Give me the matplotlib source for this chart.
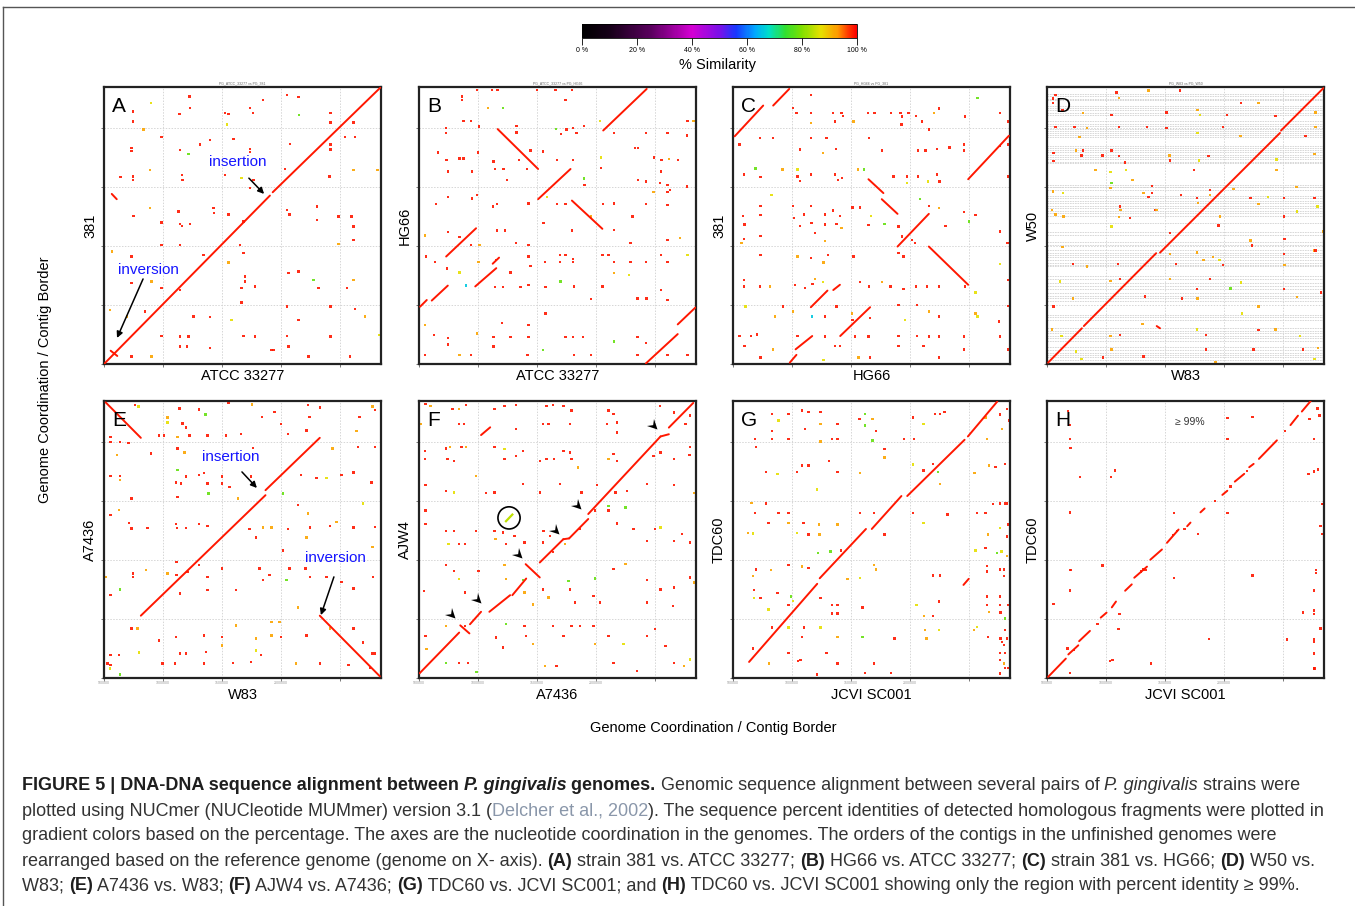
import numpy as np
import matplotlib
matplotlib.use("Agg")
import matplotlib.pyplot as plt
from matplotlib.colors import LinearSegmentedColormap, Normalize
from matplotlib.cm import ScalarMappable
from matplotlib.patches import Circle
from matplotlib.lines import Line2D
from matplotlib.path import Path
from matplotlib.markers import MarkerStyle
from matplotlib.ticker import MultipleLocator
from matplotlib.font_manager import FontProperties

plt.rcParams['font.family'] = ['Liberation Sans', 'DejaVu Sans']

# ---------------- data ----------------
GENOME_MB = 2.35          # genome length shown on every axis (Mb)
SEG_SIM = 98.5            # % similarity of long aligned fragments
LEVEL_SIM = {'r': 98.5, 'o': 92, 'y': 87, 'g': 78, 'c': 66}

CBAR_TICKS = [0, 20, 40, 60, 80, 100]
CBAR_LABELS = ['0 %', '20 %', '40 %', '60 %', '80 %', '100 %']

PANEL_LETTERS = ['A', 'B', 'C', 'D', 'E', 'F', 'G', 'H']
X_NAMES = ['ATCC 33277', 'ATCC 33277', 'HG66', 'W83', 'W83', 'A7436', 'JCVI SC001', 'JCVI SC001']
Y_NAMES = ['381', 'HG66', '381', 'W50', 'A7436', 'AJW4', 'TDC60', 'TDC60']
MINI_TITLES = ['PG_ATCC_33277 vs PG_381', 'PG_ATCC_33277 vs PG_HG66', 'PG_HG66 vs PG_381', 'PG_W83 vs PG_W50',
               '', '', '', '']

# aligned fragments (x0, y0, x1, y1) as fraction of genome length
A_SEGS = [(0.0, 0.0, 0.599, 0.608), (0.609, 0.620, 1.0, 1.0), (0.024, 0.048, 0.048, 0.029),
          (0.028, 0.614, 0.046, 0.595)]
B_SEGS = [(.665, .843, .822, .993), (.284, .848, .430, .704), (.430, .595, .547, .704), (.552, .590, .662, .488),
          (.098, .388, .206, .490), (.203, .280, .279, .346), (.266, .362, .289, .384), (.046, .229, .104, .283),
          (.004, .207, .028, .231), (.934, .143, .998, .204), (.819, .002, .934, .108)]
C_SEGS = [(.006, .822, .109, .933), (.145, .933, .203, .993), (.849, .667, .996, .824), (.489, .667, .543, .617),
          (.537, .595, .594, .542), (.594, .424, .707, .542), (.707, .424, .849, .286), (.281, .205, .341, .265),
          (.362, .267, .386, .286), (.387, .101, .495, .205), (.226, .053, .286, .101), (.205, .005, .229, .033)]
D_SEGS = [(.004, .005, .126, .129), (.133, .137, .394, .400), (.408, .402, .841, .834), (.845, .843, .998, .996),
          (.396, .137, .408, .129)]
E_SEGS = [(.006, .995, .133, .867), (.133, .225, .583, .660), (.583, .678, .779, .867), (.779, .225, .996, .006)]
F_SEGS = [(.002, .017, .145, .164), (.149, .190, .182, .161), (.184, .194, .224, .239), (.254, .239, .329, .299),
          (.337, .299, .387, .359), (.385, .411, .436, .363), (.436, .417, .521, .501), (.521, .501, .542, .504),
          (.542, .504, .611, .574), (.611, .592, .872, .872), (.872, .872, .902, .880), (.902, .904, .990, .993),
          (.224, .877, .257, .905)]
F_CIRCLED_SEG = (.314, .566, .337, .590)
F_CIRCLED_SIM = 84
G_SEGS = [(.058, .058, .304, .340), (.313, .360, .480, .538), (.501, .538, .608, .657), (.629, .657, .836, .860),
          (.848, .872, .954, .998), (.832, .336, .851, .358)]
H_SEGS = [(.004, .004, .068, .070), (.077, .085, .113, .118), (.116, .133, .155, .170), (.194, .218, .215, .236),
          (.234, .255, .249, .276), (.282, .315, .306, .338), (.315, .362, .361, .402), (.373, .427, .415, .464),
          (.433, .488, .475, .536), (.506, .548, .518, .561), (.554, .598, .569, .612), (.633, .661, .651, .676),
          (.678, .709, .712, .737), (.730, .761, .746, .773), (.765, .791, .830, .858), (.879, .913, .906, .947),
          (.920, .962, .952, 1.0)]

# short homologous hits (x, y, similarity level)
A_DOTS = [(.104, .912, 'r'), (.104, .876, 'r'), (.142, .846, 'o'), (.170, .942, 'y'), (.272, .902, 'r'), (.308, .966, 'r'),
          (.311, .924, 'r'), (.437, .906, 'r'), (.449, .902, 'r'), (.443, .864, 'y'), (.528, .924, 'r'), (.537, .906, 'r'),
          (.573, .954, 'r'), (.660, .972, 'r'), (.702, .964, 'r'), (.705, .898, 'g'), (.817, .906, 'r'), (.817, .872, 'r'),
          (.901, .872, 'r'), (.100, .780, 'r'), (.100, .768, 'r'), (.208, .819, 'r'), (.275, .773, 'r'), (.305, .759, 'g'),
          (.347, .792, 'r'), (.383, .808, 'r'), (.467, .813, 'r'), (.528, .777, 'r'), (.528, .765, 'r'), (.672, .795, 'r'),
          (.817, .792, 'r'), (.817, .774, 'r'), (.871, .819, 'r'), (.907, .819, 'r'), (.104, .677, 'r'), (.104, .665, 'r'),
          (.060, .675, 'r'), (.166, .701, 'o'), (.281, .683, 'r'), (.284, .665, 'r'), (.437, .683, 'r'), (.497, .671, 'y'),
          (.540, .665, 'r'), (.528, .635, 'r'), (.654, .704, 'r'), (.814, .677, 'r'), (.901, .701, 'o'), (.988, .701, 'o'),
          (.166, .563, 'o'), (.106, .535, 'r'), (.208, .511, 'r'), (.275, .505, 'r'), (.281, .499, 'r'), (.311, .505, 'r'),
          (.269, .551, 'r'), (.395, .563, 'r'), (.398, .545, 'r'), (.449, .539, 'r'), (.504, .514, 'r'), (.660, .557, 'r'),
          (.670, .539, 'r'), (.768, .569, 'r'), (.768, .520, 'r'), (.847, .533, 'r'), (.894, .533, 'r'), (.900, .496, 'r'),
          (.900, .448, 'r'), (.847, .434, 'o'), (.028, .406, 'o'), (.100, .388, 'r'), (.208, .430, 'r'), (.275, .430, 'r'),
          (.359, .394, 'r'), (.490, .430, 'r'), (.503, .400, 'r'), (.449, .366, 'o'), (.509, .316, 'r'), (.509, .298, 'r'),
          (.546, .280, 'r'), (.497, .274, 'r'), (.666, .328, 'r'), (.702, .334, 'r'), (.774, .274, 'r'), (.877, .274, 'r'),
          (.901, .304, 'o'), (.756, .304, 'g'), (.100, .292, 'r'), (.208, .274, 'r'), (.275, .268, 'r'), (.172, .298, 'o'),
          (.022, .195, 'o'), (.082, .171, 'o'), (.148, .189, 'r'), (.323, .171, 'r'), (.383, .169, 'r'), (.461, .159, 'y'),
          (.497, .222, 'r'), (.660, .207, 'r'), (.702, .159, 'r'), (.817, .207, 'r'), (.907, .198, 'r'), (.943, .171, 'o'),
          (.208, .101, 'r'), (.275, .099, 'r'), (.305, .099, 'r'), (.503, .101, 'r'), (.546, .099, 'r'), (.660, .101, 'r'),
          (.817, .099, 'r'), (.275, .063, 'r'), (.299, .063, 'r'), (.383, .057, 'r'), (.605, .051, 'r'), (.612, .051, 'r'),
          (.666, .063, 'r'), (.738, .027, 'r'), (.888, .027, 'r'), (.100, .027, 'r'), (.172, .027, 'o'), (.992, .105, 'y')]

B_DOTS = [(.155, .966, 'r'), (.155, .954, 'r'), (.209, .990, 'r'), (.263, .990, 'r'), (.284, .990, 'r'), (.426, .990, 'r'),
          (.493, .990, 'r'), (.553, .990, 'r'), (.529, .952, 'r'), (.303, .924, 'g'), (.249, .924, 'o'), (.160, .878, 'r'),
          (.188, .878, 'r'), (.098, .853, 'r'), (.098, .834, 'r'), (.217, .857, 'r'), (.352, .860, 'r'), (.352, .836, 'r'),
          (.495, .848, 'g'), (.513, .831, 'r'), (.532, .846, 'r'), (.556, .852, 'r'), (.569, .834, 'r'), (.595, .860, 'r'),
          (.653, .878, 'y'), (.704, .834, 'r'), (.819, .834, 'r'), (.897, .834, 'r'), (.967, .825, 'r'), (.991, .878, 'o'),
          (.068, .764, 'r'), (.100, .737, 'r'), (.104, .695, 'r'), (.146, .742, 'r'), (.160, .742, 'r'), (.213, .764, 'r'),
          (.191, .695, 'r'), (.269, .731, 'r'), (.275, .704, 'r'), (.305, .704, 'r'), (.317, .665, 'r'), (.360, .736, 'r'),
          (.390, .704, 'r'), (.402, .771, 'r'), (.448, .767, 'r'), (.499, .737, 'r'), (.556, .737, 'r'), (.595, .669, 'g'),
          (.598, .646, 'r'), (.658, .707, 'r'), (.656, .746, 'y'), (.779, .780, 'r'), (.791, .780, 'r'), (.849, .746, 'r'),
          (.876, .737, 'r'), (.903, .740, 'o'), (.934, .737, 'r'), (.873, .695, 'r'), (.871, .653, 'r'), (.897, .646, 'r'),
          (.897, .622, 'r'), (.907, .628, 'r'), (.791, .665, 'r'), (.819, .659, 'r'), (.847, .622, 'o'), (.967, .641, 'r'),
          (.970, .878, 'r'), (.062, .578, 'r'), (.104, .602, 'r'), (.191, .598, 'r'), (.209, .610, 'r'), (.281, .578, 'r'),
          (.267, .569, 'r'), (.396, .580, 'r'), (.462, .602, 'y'), (.499, .578, 'r'), (.529, .578, 'r'), (.620, .533, 'o'),
          (.665, .578, 'r'), (.704, .580, 'r'), (.771, .533, 'r'), (.819, .578, 'r'), (.897, .575, 'r'), (.943, .455, 'o'),
          (.022, .464, 'o'), (.104, .477, 'r'), (.146, .458, 'r'), (.188, .429, 'r'), (.218, .429, 'o'), (.281, .482, 'r'),
          (.311, .482, 'r'), (.351, .437, 'r'), (.396, .429, 'r'), (.450, .508, 'r'), (.553, .482, 'r'), (.704, .484, 'r'),
          (.764, .437, 'r'), (.897, .448, 'r'), (.025, .388, 'r'), (.058, .369, 'r'), (.102, .345, 'r'), (.146, .330, 'y'),
          (.215, .369, 'o'), (.279, .375, 'r'), (.330, .330, 'r'), (.396, .388, 'r'), (.402, .354, 'r'), (.455, .369, 'r'),
          (.508, .394, 'r'), (.508, .369, 'r'), (.529, .394, 'r'), (.557, .369, 'r'), (.557, .380, 'r'), (.662, .394, 'r'),
          (.684, .394, 'r'), (.704, .369, 'r'), (.764, .369, 'r'), (.819, .369, 'r'), (.873, .394, 'r'), (.897, .369, 'r'),
          (.970, .394, 'y'), (.170, .284, 'c'), (.275, .277, 'r'), (.303, .277, 'r'), (.366, .277, 'r'), (.396, .286, 'r'),
          (.456, .277, 'r'), (.511, .298, 'g'), (.559, .280, 'r'), (.620, .234, 'r'), (.662, .280, 'r'), (.704, .328, 'o'),
          (.758, .322, 'y'), (.789, .237, 'r'), (.822, .237, 'r'), (.897, .231, 'r'), (.873, .267, 'r'), (.022, .141, 'o'),
          (.055, .104, 'r'), (.104, .093, 'r'), (.104, .070, 'r'), (.022, .033, 'r'), (.146, .033, 'o'), (.188, .033, 'r'),
          (.209, .110, 'o'), (.269, .098, 'r'), (.269, .063, 'r'), (.300, .147, 'r'), (.330, .098, 'r'), (.396, .141, 'r'),
          (.396, .098, 'r'), (.392, .033, 'r'), (.448, .051, 'g'), (.456, .183, 'r'), (.529, .098, 'r'), (.557, .098, 'r'),
          (.593, .098, 'r'), (.559, .033, 'r'), (.620, .033, 'r'), (.704, .081, 'g'), (.789, .098, 'r'), (.819, .075, 'r'),
          (.789, .033, 'r'), (.970, .033, 'r'), (.897, .033, 'r')]

C_DOTS = [(.281, .972, 'r'), (.217, .924, 'r'), (.229, .906, 'r'), (.281, .906, 'r'), (.281, .870, 'o'), (.362, .906, 'r'),
          (.368, .876, 'r'), (.392, .906, 'r'), (.398, .896, 'r'), (.435, .876, 'o'), (.487, .906, 'r'), (.511, .906, 'r'),
          (.571, .906, 'r'), (.604, .906, 'r'), (.610, .894, 'r'), (.608, .864, 'r'), (.634, .906, 'r'), (.661, .896, 'r'),
          (.683, .876, 'r'), (.707, .846, 'r'), (.725, .906, 'o'), (.743, .922, 'r'), (.837, .894, 'r'), (.882, .961, 'g'),
          (.964, .906, 'r'), (.993, .876, 'r'), (.024, .792, 'r'), (.097, .816, 'r'), (.145, .816, 'r'), (.242, .774, 'r'),
          (.281, .816, 'r'), (.324, .761, 'o'), (.338, .816, 'r'), (.371, .776, 'r'), (.492, .816, 'r'), (.537, .771, 'r'),
          (.668, .771, 'r'), (.695, .771, 'r'), (.737, .776, 'r'), (.781, .781, 'r'), (.834, .792, 'r'), (.834, .771, 'r'),
          (.964, .786, 'r'), (.994, .792, 'r'), (.040, .684, 'r'), (.081, .706, 'g'), (.099, .675, 'r'), (.178, .702, 'o'),
          (.233, .702, 'y'), (.233, .677, 'r'), (.242, .661, 'r'), (.281, .684, 'r'), (.368, .684, 'r'), (.380, .665, 'r'),
          (.393, .671, 'r'), (.451, .702, 'o'), (.473, .702, 'g'), (.580, .677, 'r'), (.628, .677, 'r'), (.628, .653, 'y'),
          (.668, .677, 'r'), (.703, .659, 'y'), (.737, .684, 'r'), (.745, .659, 'r'), (.994, .677, 'r'), (.139, .611, 'y'),
          (.099, .570, 'r'), (.099, .537, 'r'), (.036, .534, 'r'), (.042, .504, 'r'), (.040, .452, 'r'), (.030, .437, 'o'),
          (.099, .463, 'r'), (.217, .570, 'r'), (.220, .528, 'r'), (.242, .498, 'r'), (.257, .539, 'r'), (.281, .570, 'r'),
          (.284, .510, 'r'), (.296, .472, 'r'), (.332, .539, 'r'), (.332, .504, 'r'), (.362, .554, 'r'), (.374, .506, 'r'),
          (.386, .535, 'r'), (.392, .490, 'o'), (.332, .443, 'o'), (.432, .565, 'r'), (.459, .565, 'r'), (.498, .535, 'y'),
          (.489, .502, 'r'), (.547, .506, 'g'), (.598, .496, 'r'), (.610, .460, 'r'), (.646, .448, 'r'), (.658, .436, 'r'),
          (.676, .595, 'g'), (.707, .570, 'r'), (.743, .564, 'o'), (.767, .498, 'r'), (.834, .548, 'r'), (.852, .514, 'g'),
          (.876, .537, 'r'), (.964, .478, 'r'), (.991, .436, 'r'), (.099, .394, 'r'), (.233, .388, 'o'), (.281, .382, 'r'),
          (.326, .366, 'o'), (.344, .394, 'r'), (.435, .388, 'r'), (.598, .400, 'r'), (.616, .388, 'r'), (.964, .361, 'y'),
          (.040, .304, 'r'), (.040, .280, 'r'), (.097, .280, 'r'), (.133, .280, 'o'), (.224, .286, 'r'), (.260, .274, 'r'),
          (.296, .306, 'o'), (.287, .288, 'r'), (.324, .295, 'y'), (.459, .295, 'r'), (.492, .280, 'r'), (.537, .295, 'o'),
          (.568, .280, 'r'), (.616, .270, 'r'), (.661, .280, 'r'), (.700, .280, 'r'), (.743, .280, 'r'), (.837, .280, 'r'),
          (.994, .304, 'r'), (.876, .258, 'y'), (.045, .207, 'y'), (.151, .171, 'o'), (.181, .207, 'r'), (.217, .189, 'o'),
          (.286, .171, 'c'), (.332, .171, 'r'), (.374, .207, 'r'), (.429, .183, 'o'), (.432, .159, 'r'), (.495, .165, 'r'),
          (.598, .213, 'r'), (.622, .159, 'y'), (.664, .213, 'r'), (.707, .189, 'o'), (.743, .171, 'r'), (.876, .183, 'o'),
          (.882, .171, 'y'), (.961, .153, 'r'), (.994, .210, 'r'), (.024, .101, 'r'), (.066, .101, 'r'), (.087, .106, 'r'),
          (.233, .101, 'r'), (.332, .099, 'r'), (.441, .099, 'r'), (.489, .099, 'r'), (.598, .101, 'r'), (.664, .101, 'r'),
          (.707, .099, 'r'), (.743, .099, 'r'), (.834, .099, 'r'), (.964, .099, 'r'), (.042, .065, 'r'), (.099, .024, 'r'),
          (.145, .053, 'o'), (.368, .065, 'r'), (.386, .065, 'r'), (.453, .024, 'o'), (.495, .024, 'r'), (.598, .065, 'r'),
          (.688, .065, 'r'), (.743, .024, 'r'), (.834, .053, 'r'), (.994, .053, 'r'), (.326, .014, 'y')]

D_DOTS = [(.030, .972, 'r'), (.022, .958, 'r'), (.022, .942, 'r'), (.056, .916, 'r'), (.130, .906, 'o'), (.251, .980, 'r'),
          (.261, .960, 'o'), (.366, .988, 'o'), (.481, .988, 'r'), (.233, .899, 'r'), (.432, .908, 'r'), (.543, .916, 'o'),
          (.553, .899, 'y'), (.650, .899, 'r'), (.700, .942, 'r'), (.764, .942, 'o'), (.825, .896, 'r'), (.970, .908, 'o'),
          (.031, .855, 'r'), (.100, .855, 'r'), (.145, .853, 'o'), (.261, .855, 'r'), (.362, .855, 'r'), (.432, .853, 'r'),
          (.543, .835, 'y'), (.635, .855, 'r'), (.698, .824, 'o'), (.933, .823, 'r'), (.970, .855, 'o'), (.118, .819, 'o'),
          (.024, .761, 'r'), (.104, .771, 'o'), (.130, .771, 'r'), (.124, .753, 'r'), (.200, .753, 'r'), (.233, .771, 'r'),
          (.261, .751, 'r'), (.281, .727, 'r'), (.442, .753, 'o'), (.444, .735, 'r'), (.548, .735, 'y'), (.583, .751, 'r'),
          (.829, .738, 'y'), (.966, .759, 'o'), (.024, .733, 'r'), (.175, .700, 'o'), (.229, .694, 'y'), (.285, .700, 'y'),
          (.308, .665, 'o'), (.531, .701, 'r'), (.829, .700, 'o'), (.229, .635, 'o'), (.233, .653, 'g'), (.378, .643, 'r'),
          (.378, .617, 'r'), (.589, .629, 'r'), (.674, .631, 'o'), (.901, .638, 'o'), (.022, .623, 'o'), (.058, .617, 'y'),
          (.263, .569, 'r'), (.266, .557, 'o'), (.348, .617, 'o'), (.366, .602, 'r'), (.390, .557, 'r'), (.483, .611, 'r'),
          (.541, .599, 'r'), (.546, .581, 'o'), (.589, .611, 'o'), (.734, .599, 'r'), (.764, .578, 'o'), (.797, .602, 'y'),
          (.855, .599, 'r'), (.966, .599, 'r'), (.976, .568, 'y'), (.019, .557, 'o'), (.031, .539, 'o'), (.060, .533, 'o'),
          (.261, .531, 'o'), (.300, .528, 'r'), (.396, .557, 'o'), (.625, .533, 'o'), (.855, .533, 'r'), (.903, .551, 'y'),
          (.619, .500, 'r'), (.233, .496, 'y'), (.444, .472, 'r'), (.740, .428, 'r'), (.734, .446, 'o'), (.857, .452, 'r'),
          (.964, .410, 'o'), (.998, .478, 'o'), (.056, .422, 'o'), (.094, .360, 'r'), (.145, .352, 'o'), (.257, .360, 'r'),
          (.444, .398, 'o'), (.466, .361, 'r'), (.541, .402, 'o'), (.565, .376, 'o'), (.599, .386, 'o'), (.623, .376, 'y'),
          (.635, .358, 'r'), (.855, .398, 'r'), (.857, .358, 'o'), (.970, .410, 'r'), (.048, .298, 'y'), (.229, .300, 'o'),
          (.263, .306, 'r'), (.444, .306, 'o'), (.541, .270, 'r'), (.589, .306, 'r'), (.662, .273, 'g'), (.700, .294, 'y'),
          (.855, .270, 'r'), (.990, .258, 'r'), (.024, .207, 'r'), (.094, .237, 'o'), (.354, .243, 'r'), (.487, .237, 'r'),
          (.543, .237, 'o'), (.764, .207, 'o'), (.903, .241, 'o'), (.704, .183, 'y'), (.019, .125, 'o'), (.229, .101, 'o'),
          (.263, .105, 'r'), (.345, .145, 'o'), (.541, .125, 'y'), (.573, .105, 'r'), (.764, .123, 'r'), (.825, .125, 'o'),
          (.913, .101, 'y'), (.052, .101, 'y'), (.104, .045, 'y'), (.124, .017, 'y'), (.203, .024, 'r'), (.233, .053, 'o'),
          (.348, .027, 'r'), (.575, .053, 'r'), (.609, .005, 'o'), (.746, .053, 'r'), (.925, .053, 'r'), (.966, .017, 'y'),
          (.978, .057, 'o')]

# contig borders of the unfinished W50 assembly (fraction of genome)
D_CONTIG_Y = [.975, .966, .958, .952, .933, .924, .916, .906, .900, .876, .867, .858, .848, .840, .834, .825, .819,
              .788, .780, .771, .764, .755, .747, .740, .731, .725, .647, .639, .629, .607, .599, .590, .581, .571,
              .563, .554, .545, .535, .508, .478, .466, .439, .430, .412, .402, .394, .386, .376, .366, .358, .352,
              .316, .306, .294, .280, .270, .255, .246, .237, .229, .177, .169, .159, .129, .120, .111, .101, .093,
              .084, .060, .051, .041, .033, .024, .014]

E_DOTS = [(.112, .986, 'r'), (.124, .980, 'y'), (.229, .940, 'o'), (.272, .973, 'r'), (.344, .970, 'r'), (.366, .951, 'g'),
          (.450, .992, 'r'), (.535, .988, 'o'), (.571, .943, 'r'), (.616, .961, 'r'), (.737, .986, 'r'), (.742, .943, 'r'),
          (.779, .976, 'r'), (.922, .943, 'r'), (.970, .980, 'o'), (.978, .967, 'r'), (.229, .923, 'y'), (.284, .919, 'r'),
          (.296, .905, 'r'), (.199, .875, 'r'), (.217, .875, 'r'), (.266, .869, 'o'), (.308, .875, 'r'), (.374, .875, 'r'),
          (.441, .875, 'r'), (.495, .880, 'r'), (.640, .917, 'r'), (.664, .880, 'r'), (.731, .894, 'r'), (.912, .892, 'o'),
          (.024, .871, 'r'), (.024, .852, 'r'), (.057, .852, 'r'), (.088, .848, 'r'), (.048, .805, 'o'), (.169, .810, 'r'),
          (.266, .829, 'r'), (.290, .814, 'o'), (.537, .831, 'r'), (.825, .829, 'o'), (.918, .835, 'r'), (.978, .835, 'r'),
          (.024, .730, 'r'), (.057, .730, 'r'), (.057, .715, 'o'), (.100, .648, 'r'), (.266, .751, 'g'), (.260, .706, 'r'),
          (.278, .702, 'r'), (.296, .727, 'r'), (.266, .654, 'r'), (.344, .733, 'r'), (.362, .739, 'r'), (.374, .702, 'r'),
          (.377, .666, 'g'), (.426, .727, 'r'), (.426, .702, 'r'), (.453, .690, 'r'), (.483, .648, 'o'), (.531, .727, 'r'),
          (.646, .666, 'g'), (.712, .733, 'r'), (.767, .721, 'r'), (.803, .721, 'y'), (.858, .733, 'r'), (.900, .742, 'r'),
          (.966, .706, 'r'), (.936, .630, 'y'), (.054, .606, 'o'), (.024, .588, 'r'), (.091, .560, 'r'), (.100, .540, 'r'),
          (.157, .542, 'r'), (.260, .557, 'r'), (.263, .542, 'r'), (.296, .542, 'r'), (.344, .555, 'r'), (.374, .549, 'r'),
          (.525, .537, 'r'), (.549, .507, 'r'), (.574, .543, 'o'), (.604, .543, 'o'), (.646, .461, 'r'), (.664, .537, 'r'),
          (.700, .624, 'r'), (.737, .594, 'o'), (.743, .543, 'r'), (.731, .507, 'o'), (.815, .549, 'r'), (.839, .564, 'o'),
          (.900, .543, 'r'), (.970, .473, 'o'), (.978, .546, 'r'), (.006, .365, 'o'), (.024, .299, 'r'), (.105, .377, 'r'),
          (.105, .365, 'r'), (.151, .389, 'o'), (.229, .377, 'o'), (.262, .419, 'r'), (.262, .371, 'r'), (.274, .305, 'r'),
          (.302, .383, 'r'), (.344, .407, 'r'), (.374, .365, 'r'), (.374, .317, 'r'), (.426, .395, 'r'), (.477, .317, 'r'),
          (.562, .395, 'r'), (.574, .353, 'r'), (.598, .371, 'r'), (.659, .353, 'g'), (.670, .395, 'r'), (.700, .254, 'o'),
          (.728, .395, 'r'), (.743, .365, 'r'), (.803, .365, 'r'), (.858, .347, 'r'), (.900, .323, 'r'), (.972, .365, 'r'),
          (.057, .319, 'g'), (.100, .178, 'r'), (.121, .178, 'o'), (.199, .136, 'r'), (.260, .148, 'r'), (.274, .088, 'r'),
          (.296, .088, 'r'), (.362, .154, 'r'), (.368, .094, 'r'), (.426, .148, 'r'), (.426, .118, 'o'), (.477, .190, 'o'),
          (.549, .142, 'o'), (.549, .100, 'y'), (.567, .082, 'r'), (.604, .154, 'o'), (.640, .148, 'r'), (.604, .202, 'o'),
          (.634, .202, 'o'), (.731, .154, 'r'), (.815, .178, 'o'), (.900, .178, 'r'), (.936, .128, 'r'), (.970, .088, 'r'),
          (.979, .088, 'r'), (.024, .082, 'r'), (.054, .082, 'r'), (.127, .092, 'y'), (.012, .052, 'r'), (.024, .046, 'r'),
          (.211, .052, 'r'), (.257, .052, 'r'), (.362, .052, 'r'), (.465, .055, 'r'), (.531, .058, 'r'), (.694, .052, 'o'),
          (.779, .052, 'r'), (.882, .048, 'r'), (.960, .036, 'r'), (.057, .012, 'g'), (.021, .034, 'y')]

F_DOTS = [(.024, .990, 'r'), (.042, .983, 'o'), (.145, .971, 'o'), (.169, .986, 'r'), (.272, .971, 'r'), (.308, .983, 'r'),
          (.351, .986, 'r'), (.351, .899, 'r'), (.460, .983, 'r'), (.484, .986, 'r'), (.521, .983, 'r'), (.551, .965, 'r'),
          (.684, .965, 'r'), (.702, .953, 'r'), (.714, .923, 'r'), (.920, .959, 'r'), (.869, .983, 'r'), (.006, .918, 'o'),
          (.145, .918, 'r'), (.163, .918, 'r'), (.121, .971, 'r'), (.448, .917, 'r'), (.467, .917, 'r'), (.545, .918, 'r'),
          (.678, .917, 'r'), (.714, .887, 'r'), (.962, .917, 'r'), (.978, .947, 'r'), (.022, .820, 'r'), (.022, .790, 'r'),
          (.097, .829, 'r'), (.111, .833, 'o'), (.153, .833, 'r'), (.169, .833, 'o'), (.103, .790, 'r'), (.127, .784, 'r'),
          (.206, .730, 'o'), (.272, .833, 'r'), (.308, .826, 'y'), (.308, .790, 'r'), (.351, .802, 'r'), (.375, .820, 'r'),
          (.436, .784, 'r'), (.460, .790, 'r'), (.487, .790, 'r'), (.521, .820, 'r'), (.545, .814, 'r'), (.551, .790, 'r'),
          (.575, .760, 'o'), (.684, .790, 'o'), (.702, .808, 'r'), (.714, .784, 'r'), (.847, .802, 'r'), (.872, .814, 'r'),
          (.920, .790, 'r'), (.978, .833, 'r'), (.976, .805, 'r'), (.024, .696, 'r'), (.097, .676, 'r'), (.127, .670, 'y'),
          (.242, .667, 'r'), (.272, .670, 'r'), (.375, .700, 'r'), (.436, .670, 'r'), (.508, .700, 'r'), (.587, .670, 'r'),
          (.642, .696, 'r'), (.709, .670, 'r'), (.751, .676, 'r'), (.823, .700, 'r'), (.920, .696, 'r'), (.993, .667, 'o'),
          (.024, .604, 'r'), (.024, .555, 'r'), (.097, .531, 'r'), (.107, .483, 'y'), (.127, .531, 'r'), (.145, .483, 'r'),
          (.167, .483, 'r'), (.206, .531, 'r'), (.272, .531, 'r'), (.276, .501, 'o'), (.303, .525, 'r'), (.315, .483, 'r'),
          (.345, .513, 'r'), (.381, .489, 'r'), (.450, .531, 'r'), (.472, .513, 'r'), (.448, .489, 'r'), (.484, .455, 'r'),
          (.527, .483, 'o'), (.581, .537, 'r'), (.636, .604, 'r'), (.684, .604, 'r'), (.684, .622, 'g'), (.714, .558, 'r'),
          (.745, .616, 'g'), (.775, .537, 'r'), (.823, .495, 'r'), (.853, .537, 'r'), (.872, .543, 'y'), (.920, .495, 'r'),
          (.950, .519, 'r'), (.978, .489, 'r'), (.018, .314, 'r'), (.097, .407, 'r'), (.127, .387, 'r'), (.145, .357, 'y'),
          (.167, .308, 'r'), (.215, .387, 'r'), (.308, .407, 'o'), (.315, .357, 'o'), (.375, .354, 'g'), (.381, .308, 'o'),
          (.412, .266, 'o'), (.448, .320, 'r'), (.467, .291, 'o'), (.539, .351, 'g'), (.545, .320, 'r'), (.563, .272, 'r'),
          (.636, .359, 'g'), (.630, .296, 'r'), (.654, .272, 'r'), (.702, .393, 'r'), (.745, .411, 'o'), (.823, .354, 'r'),
          (.872, .320, 'r'), (.920, .327, 'r'), (.978, .363, 'r'), (.993, .345, 'o'), (.823, .272, 'r'), (.918, .260, 'r'),
          (.024, .152, 'r'), (.027, .104, 'o'), (.097, .188, 'o'), (.167, .188, 'r'), (.278, .146, 'r'), (.315, .194, 'g'),
          (.303, .110, 'r'), (.381, .188, 'r'), (.387, .152, 'r'), (.412, .122, 'o'), (.454, .043, 'o'), (.484, .188, 'r'),
          (.521, .152, 'r'), (.496, .043, 'r'), (.551, .188, 'r'), (.581, .188, 'r'), (.630, .188, 'r'), (.636, .122, 'o'),
          (.684, .152, 'r'), (.702, .055, 'r'), (.738, .122, 'y'), (.787, .025, 'r'), (.823, .152, 'r'), (.853, .176, 'r'),
          (.890, .116, 'r'), (.920, .055, 'r'), (.956, .043, 'o'), (.978, .067, 'y'), (.145, .055, 'r'), (.176, .055, 'r'),
          (.208, .022, 'g'), (.097, .055, 'g')]

G_DOTS = [(.140, .953, 'r'), (.200, .953, 'r'), (.249, .965, 'r'), (.273, .961, 'r'), (.316, .961, 'r'), (.316, .917, 'o'),
          (.377, .917, 'r'), (.476, .953, 'g'), (.476, .911, 'g'), (.456, .936, 'r'), (.504, .936, 'o'), (.516, .892, 'r'),
          (.650, .941, 'r'), (.687, .917, 'y'), (.729, .953, 'r'), (.747, .953, 'r'), (.763, .961, 'r'), (.911, .941, 'o'),
          (.964, .951, 'r'), (.990, .971, 'r'), (.996, .929, 'r'), (.164, .929, 'y'), (.261, .898, 'r'), (.140, .892, 'r'),
          (.079, .863, 'r'), (.140, .863, 'r'), (.200, .863, 'r'), (.316, .854, 'o'), (.358, .863, 'r'), (.377, .863, 'r'),
          (.504, .857, 'g'), (.617, .863, 'r'), (.654, .863, 'r'), (.917, .863, 'o'), (.972, .899, 'o'), (.083, .833, 'r'),
          (.547, .826, 'r'), (.547, .796, 'o'), (.346, .784, 'r'), (.650, .771, 'y'), (.119, .743, 'r'), (.160, .737, 'y'),
          (.231, .743, 'r'), (.249, .767, 'r'), (.273, .767, 'r'), (.377, .743, 'r'), (.459, .739, 'o'), (.687, .749, 'r'),
          (.721, .773, 'r'), (.739, .743, 'g'), (.747, .701, 'o'), (.872, .739, 'o'), (.924, .767, 'o'), (.948, .761, 'r'),
          (.982, .773, 'r'), (.304, .681, 'y'), (.067, .632, 'o'), (.079, .596, 'r'), (.119, .630, 'r'), (.164, .596, 'r'),
          (.200, .596, 'r'), (.200, .560, 'o'), (.255, .560, 'r'), (.231, .524, 'y'), (.273, .518, 'r'), (.310, .554, 'o'),
          (.313, .518, 'o'), (.377, .554, 'o'), (.459, .596, 'r'), (.510, .596, 'r'), (.547, .518, 'r'), (.650, .596, 'r'),
          (.687, .560, 'y'), (.775, .590, 'r'), (.881, .596, 'r'), (.911, .596, 'r'), (.938, .629, 'r'), (.964, .630, 'r'),
          (.982, .630, 'r'), (.990, .630, 'r'), (.994, .554, 'r'), (.964, .541, 'y'), (.990, .511, 'r'), (.921, .518, 'o'),
          (.055, .524, 'o'), (.073, .521, 'y'), (.128, .560, 'r'), (.306, .451, 'g'), (.352, .457, 'g'), (.389, .461, 'r'),
          (.413, .357, 'o'), (.459, .360, 'y'), (.875, .461, 'y'), (.911, .469, 'r'), (.954, .451, 'g'), (.970, .457, 'y'),
          (.990, .441, 'o'), (.083, .391, 'r'), (.073, .369, 'o'), (.137, .389, 'o'), (.200, .409, 'r'), (.249, .403, 'o'),
          (.273, .397, 'r'), (.510, .409, 'o'), (.516, .391, 'o'), (.723, .370, 'r'), (.747, .370, 'r'), (.917, .405, 'r'),
          (.917, .385, 'r'), (.964, .391, 'r'), (.978, .391, 'r'), (.978, .369, 'r'), (.076, .318, 'r'), (.076, .288, 'y'),
          (.099, .288, 'r'), (.160, .306, 'r'), (.128, .248, 'y'), (.200, .264, 'r'), (.209, .294, 'g'), (.216, .279, 'y'),
          (.316, .288, 'r'), (.358, .264, 'r'), (.358, .233, 'r'), (.377, .264, 'r'), (.377, .233, 'r'), (.468, .255, 'r'),
          (.662, .264, 'y'), (.690, .224, 'o'), (.723, .224, 'r'), (.744, .276, 'r'), (.917, .294, 'r'), (.917, .264, 'r'),
          (.924, .239, 'o'), (.964, .294, 'r'), (.964, .264, 'r'), (.966, .236, 'r'), (.994, .264, 'r'), (.982, .215, 'g'),
          (.140, .183, 'r'), (.200, .183, 'y'), (.249, .149, 'r'), (.257, .183, 'r'), (.316, .183, 'y'), (.377, .149, 'o'),
          (.468, .149, 'g'), (.583, .143, 'r'), (.693, .173, 'o'), (.699, .143, 'o'), (.744, .173, 'y'), (.869, .173, 'o'),
          (.881, .185, 'y'), (.921, .149, 'r'), (.966, .143, 'r'), (.982, .173, 'r'), (.990, .143, 'r'), (.073, .106, 'r'),
          (.200, .091, 'r'), (.243, .064, 'r'), (.234, .061, 'r'), (.338, .091, 'r'), (.377, .052, 'r'), (.510, .052, 'r'),
          (.131, .052, 'o'), (.304, .013, 'r'), (.476, .018, 'r'), (.571, .018, 'r'), (.964, .091, 'r'), (.982, .091, 'r'),
          (.964, .064, 'r'), (.982, .037, 'r'), (.994, .037, 'r'), (.964, .016, 'r'), (.978, .052, 'o'), (.978, .119, 'r'),
          (.972, .131, 'r')]

H_DOTS = [(.076, .964, 'r'), (.082, .913, 'r'), (.082, .862, 'r'), (.085, .830, 'r'), (.119, .725, 'r'), (.230, .725, 'r'),
          (.246, .749, 'r'), (.651, .939, 'r'), (.742, .943, 'r'), (.651, .862, 'r'), (.976, .973, 'r'), (.948, .935, 'r'),
          (.984, .947, 'r'), (.964, .862, 'r'), (.944, .737, 'r'), (.964, .745, 'r'), (.978, .753, 'r'), (.993, .628, 'r'),
          (.996, .628, 'r'), (.082, .598, 'r'), (.458, .595, 'r'), (.651, .595, 'r'), (.545, .519, 'r'), (.988, .549, 'r'),
          (.993, .519, 'r'), (.201, .406, 'r'), (.082, .389, 'r'), (.086, .389, 'r'), (.358, .389, 'r'), (.458, .361, 'r'),
          (.742, .370, 'r'), (.972, .389, 'r'), (.972, .379, 'r'), (.082, .316, 'r'), (.964, .316, 'r'), (.024, .268, 'r'),
          (.262, .232, 'r'), (.924, .236, 'r'), (.964, .244, 'r'), (.964, .232, 'r'), (.258, .177, 'r'), (.988, .179, 'r'),
          (.585, .141, 'r'), (.867, .139, 'r'), (.964, .139, 'r'), (.964, .130, 'r'), (.964, .088, 'r'), (.074, .107, 'r'),
          (.228, .061, 'r'), (.237, .064, 'r'), (.375, .052, 'r'), (.082, .018, 'r'), (.964, .034, 'r'), (.966, .034, 'r'),
          (.349, .392, 'r'), (.340, .384, 'r'), (.454, .517, 'r'), (.470, .530, 'r'), (.497, .538, 'r'), (.606, .640, 'r'),
          (.662, .692, 'r'), (.723, .748, 'r'), (.860, .892, 'r'), (.182, .196, 'r'), (.098, .101, 'r')]

PANEL_SEGS = [A_SEGS, B_SEGS, C_SEGS, D_SEGS, E_SEGS, F_SEGS, G_SEGS, H_SEGS]
PANEL_DOTS = [A_DOTS, B_DOTS, C_DOTS, D_DOTS, E_DOTS, F_DOTS, G_DOTS, H_DOTS]

# annotations (axes-fraction coordinates)
A_NOTES = [('insertion', (.379, .729), (.523, .671), (.578, .614)),
           ('inversion', (.051, .339), (.141, .307), (.047, .094))]
E_NOTES = [('insertion', (.354, .798), (.498, .744), (.552, .686)),
           ('inversion', (.726, .433), (.830, .365), (.783, .227))]
F_ARROW_TIPS = [(.131, .217), (.224, .270), (.373, .435), (.506, .519), (.584, .610), (.860, .899)]
F_CIRCLE = (.325, .578, .040)
H_NOTE = '≥ 99%'

LEFT_LABEL = 'Genome Coordination / Contig Border'
BOTTOM_LABEL = 'Genome Coordination / Contig Border'

# ---------------- figure ----------------
W, H = 1355, 906
fig = plt.figure(figsize=(W / 100, H / 100), dpi=100)
fig.patch.set_facecolor('white')


def px_axes(l, t, w, h):
    return fig.add_axes([l / W, 1 - (t + h) / H, w / W, h / H])


cmap = LinearSegmentedColormap.from_list('sim', [
    (0.00, '#000000'), (0.10, '#160018'), (0.25, '#5a005e'), (0.40, '#d400d4'),
    (0.50, '#7a10e8'), (0.56, '#1838ff'), (0.63, '#00a8ff'), (0.68, '#00e0c8'),
    (0.74, '#30e030'), (0.80, '#7ee000'), (0.87, '#e6e000'), (0.93, '#ff9a00'),
    (0.97, '#ff3a00'), (1.00, '#ff0000')])
norm = Normalize(0, 100)

# outer frame lines
fig.add_artist(Line2D([3 / W, 3 / W], [0, 1 - 7 / H], transform=fig.transFigure, color='#555555', lw=1))
fig.add_artist(Line2D([3 / W, 1], [1 - 7 / H, 1 - 7 / H], transform=fig.transFigure, color='#555555', lw=1))

# colour bar
cax = px_axes(582, 24, 275, 14)
cb = fig.colorbar(ScalarMappable(norm=norm, cmap=cmap), cax=cax, orientation='horizontal', ticks=CBAR_TICKS)
cb.ax.set_xticklabels(CBAR_LABELS, fontsize=5)
cb.ax.tick_params(length=5, width=0.6, pad=1.5)
cb.outline.set_linewidth(0.6)
fig.text(717 / W, 1 - 65 / H, '% Similarity', ha='center', va='center', fontsize=10.5)

PANEL_LEFT = [104, 419, 733, 1047]
PANEL_TOP = [87, 401]
SIZE = 277

axes = []
for i in range(8):
    r, c = divmod(i, 4)
    ax = px_axes(PANEL_LEFT[c], PANEL_TOP[r], SIZE, SIZE)
    axes.append(ax)
    L = GENOME_MB
    ax.set_xlim(0, L)
    ax.set_ylim(0, L)
    ax.xaxis.set_major_locator(MultipleLocator(0.5))
    ax.yaxis.set_major_locator(MultipleLocator(0.5))
    ax.grid(True, color='#d6d6d6', lw=0.7, ls=(0, (1.5, 1.5)))
    ax.set_axisbelow(True)
    ax.tick_params(direction='out', length=2, width=0.5, color='#444444',
                   labelleft=False, labelbottom=(r == 1), labelsize=2.5, labelcolor='#999999', pad=0.5)
    if r == 1:
        ax.set_xticklabels(['', '500000', '1000000', '1500000', '2000000'])
    for sp in ax.spines.values():
        sp.set_linewidth(1.6)
        sp.set_color('#222222')
    if PANEL_LETTERS[i] == 'D':
        for yv in D_CONTIG_Y:
            ax.axhline(yv * L, color='#d2d2d2', lw=0.6, ls=(0, (2, 1)), zorder=1)
    # dots
    dots = PANEL_DOTS[i]
    ax.scatter([d[0] * L for d in dots], [d[1] * L for d in dots],
               c=[LEVEL_SIM[d[2]] for d in dots], cmap=cmap, norm=norm,
               s=3, marker='s', linewidths=0, alpha=0.9, zorder=2)
    for x0, y0, x1, y1 in PANEL_SEGS[i]:
        ax.plot([x0 * L, x1 * L], [y0 * L, y1 * L], color=cmap(norm(SEG_SIM)), lw=1.4,
                solid_capstyle='round', zorder=3)
    ax.set_xlabel(X_NAMES[i], fontsize=10.5, labelpad=1.5)
    ax.set_ylabel(Y_NAMES[i], fontsize=10.5, labelpad=3)
    ax.text(0.03, 0.965, PANEL_LETTERS[i], transform=ax.transAxes, ha='left', va='top', fontsize=15, zorder=5)
    if MINI_TITLES[i]:
        ax.set_title(MINI_TITLES[i], fontsize=2.5, color='#666666', pad=2)

# annotations in A and E
for ax, notes in ((axes[0], A_NOTES), (axes[4], E_NOTES)):
    for label, tpos, start, tip in notes:
        ax.text(tpos[0], tpos[1], label, transform=ax.transAxes, color='#1515ff', fontsize=11,
                ha='left', va='center', zorder=6)
        ax.annotate('', xy=tip, xycoords='axes fraction', xytext=start, textcoords='axes fraction',
                    arrowprops=dict(arrowstyle='-|>', color='black', lw=1.1, mutation_scale=9,
                                    shrinkA=0, shrinkB=0), zorder=6)

# F: circled hit and arrowheads
axF = axes[5]
L = GENOME_MB
x0, y0, x1, y1 = F_CIRCLED_SEG
axF.plot([x0 * L, x1 * L], [y0 * L, y1 * L], color=cmap(norm(F_CIRCLED_SIM)), lw=1.6, zorder=3)
axF.add_patch(Circle((F_CIRCLE[0], F_CIRCLE[1]), F_CIRCLE[2], transform=axF.transAxes,
                     fill=False, ec='black', lw=1.2, zorder=6))
chev = np.array([[0, 0], [-1.0, 0.5], [-0.62, 0.0], [-1.0, -0.5], [0, 0]])
ang = np.deg2rad(-45)
rot = np.array([[np.cos(ang), -np.sin(ang)], [np.sin(ang), np.cos(ang)]])
chev_r = chev @ rot.T
chev_marker = MarkerStyle(Path(chev_r, [Path.MOVETO, Path.LINETO, Path.LINETO, Path.LINETO, Path.CLOSEPOLY]))
axF.scatter([t[0] for t in F_ARROW_TIPS], [t[1] for t in F_ARROW_TIPS], transform=axF.transAxes,
            marker=chev_marker, s=230, c='black', linewidths=0, zorder=7)

# H note
axes[7].text(0.516, 0.924, H_NOTE, transform=axes[7].transAxes, ha='center', va='center',
             fontsize=7.5, color='#333333')

# shared axis labels
fig.text(45 / W, 1 - 380 / H, LEFT_LABEL, rotation=90, ha='center', va='center', fontsize=10.5)
fig.text(713 / W, 1 - 728 / H, BOTTOM_LABEL, ha='center', va='center', fontsize=10.5)

# ---------------- caption ----------------
C_BOLD = '#1e1e1e'
C_BODY = '#333333'
C_CITE = '#8a97aa'
CAPTION_LINES = [
    [("FIGURE 5 | DNA-DNA sequence alignment between ", 'bold', 'normal', C_BOLD),
     ("P. gingivalis", 'bold', 'italic', C_BOLD),
     (" genomes.", 'bold', 'normal', C_BOLD),
     (" Genomic sequence alignment between several pairs of ", 'normal', 'normal', C_BODY),
     ("P. gingivalis", 'normal', 'italic', C_BODY),
     (" strains were", 'normal', 'normal', C_BODY)],
    [("plotted using NUCmer (NUCleotide MUMmer) version 3.1 (", 'normal', 'normal', C_BODY),
     ("Delcher et al., 2002", 'normal', 'normal', C_CITE),
     ("). The sequence percent identities of detected homologous fragments were plotted in", 'normal', 'normal', C_BODY)],
    [("gradient colors based on the percentage. The axes are the nucleotide coordination in the genomes. "
      "The orders of the contigs in the unfinished genomes were", 'normal', 'normal', C_BODY)],
    [("rearranged based on the reference genome (genome on X- axis). ", 'normal', 'normal', C_BODY),
     ("(A)", 'bold', 'normal', C_BOLD), (" strain 381 vs. ATCC 33277; ", 'normal', 'normal', C_BODY),
     ("(B)", 'bold', 'normal', C_BOLD), (" HG66 vs. ATCC 33277; ", 'normal', 'normal', C_BODY),
     ("(C)", 'bold', 'normal', C_BOLD), (" strain 381 vs. HG66; ", 'normal', 'normal', C_BODY),
     ("(D)", 'bold', 'normal', C_BOLD), (" W50 vs.", 'normal', 'normal', C_BODY)],
    [("W83; ", 'normal', 'normal', C_BODY), ("(E)", 'bold', 'normal', C_BOLD),
     (" A7436 vs. W83; ", 'normal', 'normal', C_BODY), ("(F)", 'bold', 'normal', C_BOLD),
     (" AJW4 vs. A7436; ", 'normal', 'normal', C_BODY), ("(G)", 'bold', 'normal', C_BOLD),
     (" TDC60 vs. JCVI SC001; and ", 'normal', 'normal', C_BODY), ("(H)", 'bold', 'normal', C_BOLD),
     (" TDC60 vs. JCVI SC001 showing only the region with percent identity ≥ 99%.", 'normal', 'normal', C_BODY)],
]
CAPTION_Y = [786, 811, 836, 861, 886]
CAPTION_X = 22
CAPTION_TARGET_W = 1261   # width of third caption line

renderer = fig.canvas.get_renderer()
CAP_FAMILY = ['Liberation Sans', 'DejaVu Sans']


def adv(s, size, weight, style):
    fp = FontProperties(family=CAP_FAMILY, size=size, weight=weight, style=style)
    w1, _, _ = renderer.get_text_width_height_descent('|' + s + '|', fp, False)
    w0, _, _ = renderer.get_text_width_height_descent('||', fp, False)
    return w1 - w0


base = 12.0
w3 = sum(adv(t, base, wt, st) for t, wt, st, _ in CAPTION_LINES[2])
cap_size = base * CAPTION_TARGET_W / w3

for y, runs in zip(CAPTION_Y, CAPTION_LINES):
    x = CAPTION_X
    for text, wt, st, col in runs:
        fig.text(x / W, 1 - y / H, text, fontsize=cap_size, weight=wt, style=st, color=col,
                 ha='left', va='center', family=CAP_FAMILY)
        x += adv(text, cap_size, wt, st)

fig.savefig('out.png', dpi=100, facecolor='white')
